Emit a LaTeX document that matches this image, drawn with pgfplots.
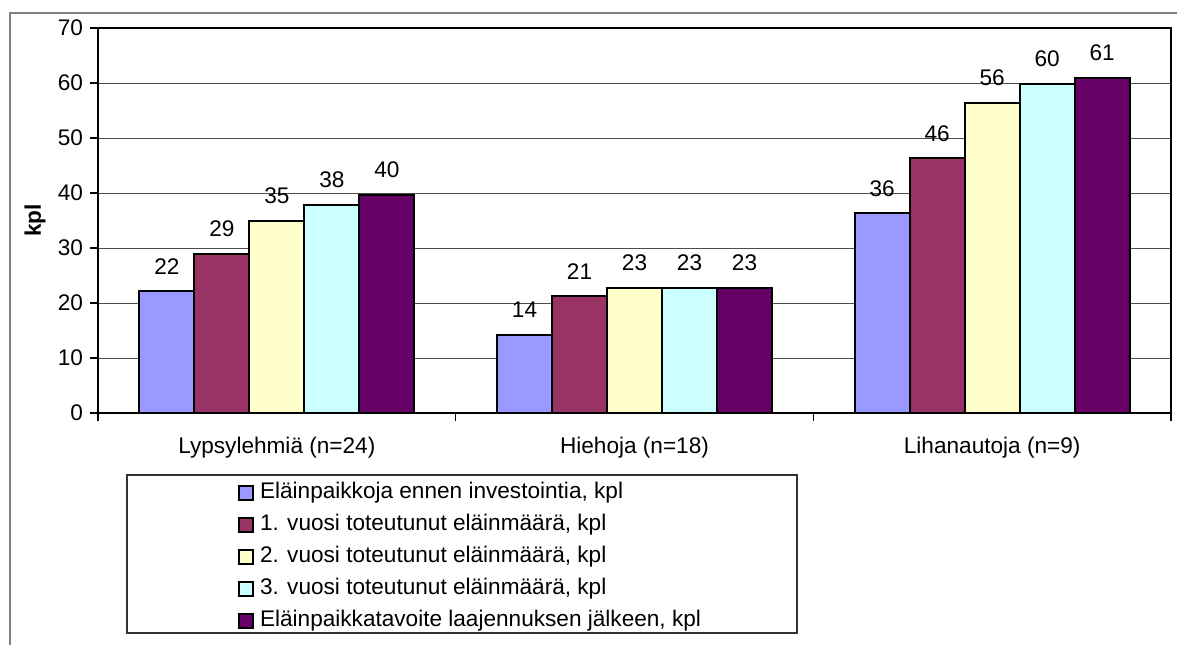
\documentclass[border=0pt]{standalone}
\usepackage{pgfplots}
\pgfplotsset{compat=1.18}
\usepackage{fontspec}
\setmainfont{Liberation Sans}
\definecolor{c1}{HTML}{9999FF}
\definecolor{c2}{HTML}{993366}
\definecolor{c3}{HTML}{FFFFCC}
\definecolor{c4}{HTML}{CCFFFF}
\definecolor{c5}{HTML}{660066}
\newcommand{\cf}{\fontsize{11.3}{13.5}\selectfont}
\begin{document}
\begin{tikzpicture}
\useasboundingbox (-49pt,-115.5pt) rectangle (539.5pt,206.5pt);
\begin{axis}[
  at={(0,0)}, anchor=south west,
  scale only axis, width=536.5pt, height=192.5pt,
  font=\cf,
  ybar=0pt, bar width=27.5pt,
  xmin=-0.5, xmax=2.5, ymin=0, ymax=70,
  ytick={0,10,...,70},
  xtick={0,1,2},
  minor xtick={-0.5,0.5,1.5,2.5},
  xtick pos=bottom, ytick pos=left,
  xticklabels={Lypsylehmiä (n=24), Hiehoja (n=18), Lihanautoja (n=9)},
  major x tick style={draw=none},
  minor x tick style={draw=black, line width=0.6pt},
  xticklabel style={anchor=base, yshift=-16pt, font=\cf},
  tick align=outside, major tick length=4pt, minor tick length=4pt,
  y tick style={draw=black, line width=0.6pt},
  yticklabel style={font=\cf},
  ymajorgrids, grid style={black!70, line width=0.5pt},
  axis line style={black, line width=1.1pt},
  /pgf/number format/assume math mode=true,
  every axis y label/.style={at={(axis description cs:0,0.5)}, xshift=-31.5pt, rotate=90, anchor=center, font=\cf\bfseries},
  ylabel={kpl},
  nodes near coords={\pgfmathprintnumber[fixed,precision=0]{\pgfplotspointmeta}},
  every node near coord/.append style={anchor=south, inner sep=0pt, yshift=8pt, black, font=\cf},
  legend style={draw=none, fill=none, at={(0.1305,-0.1777)}, anchor=north west,
    inner sep=0pt, row sep=5pt, column sep=3pt, font=\cf,
    nodes={inner sep=0pt, text height=8.5pt, text depth=2.5pt}},
  legend cell align=left,
  legend image code/.code={\draw[#1, draw=black, line width=0.8pt] (0pt,-3.5pt) rectangle (7pt,3.5pt);},
]
\addplot[fill=c1, draw=black, line width=1pt] coordinates {(0,22.1) (1,14.2) (2,36.3)};
\addplot[fill=c2, draw=black, line width=1pt] coordinates {(0,29.0) (1,21.2) (2,46.3)};
\addplot[fill=c3, draw=black, line width=1pt] coordinates {(0,35.0) (1,22.8) (2,56.4)};
\addplot[fill=c4, draw=black, line width=1pt] coordinates {(0,37.8) (1,22.8) (2,59.8)};
\addplot[fill=c5, draw=black, line width=1pt] coordinates {(0,39.6) (1,22.8) (2,61.0)};
\legend{{Eläinpaikkoja ennen investointia, kpl}, {1. vuosi toteutunut eläinmäärä, kpl}, {2. vuosi toteutunut eläinmäärä, kpl}, {3. vuosi toteutunut eläinmäärä, kpl}, {Eläinpaikkatavoite laajennuksen jälkeen, kpl}}
\end{axis}
\draw[black!80, line width=0.6pt] (14.5pt,-31pt) rectangle (349.5pt,-110pt);
\draw[gray, line width=0.75pt] (-44pt,-140pt) -- (-44pt,200pt) -- (600pt,200pt);
\end{tikzpicture}
\end{document}
